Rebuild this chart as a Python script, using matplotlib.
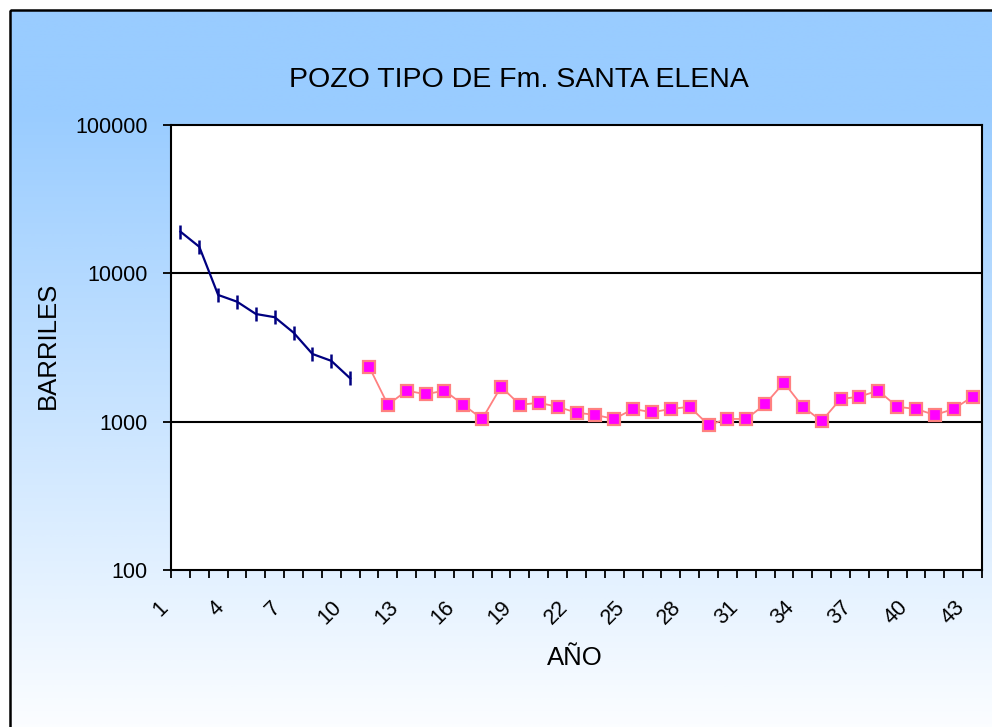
import matplotlib.pyplot as plt
import matplotlib.transforms as mtransforms
from matplotlib.colors import LinearSegmentedColormap
from matplotlib.patches import Rectangle
import numpy as np

plt.rcParams['font.family'] = ['Liberation Sans', 'DejaVu Sans']

# Datos
anios_1 = list(range(1, 11))
barriles_1 = [19100, 15100, 7150, 6440, 5320, 5060, 3980, 2860, 2570, 1960]

anios_2 = list(range(11, 44))
barriles_2 = [2350, 1300, 1620, 1530, 1620, 1300, 1043, 1720, 1300, 1340,
              1260, 1150, 1110, 1043, 1218, 1157, 1218, 1260, 950, 1043,
              1043, 1310, 1833, 1260, 1010, 1422, 1474, 1620, 1260, 1218,
              1110, 1218, 1474]

etiquetas_x = list(range(1, 44, 3))

W, H = 992, 727
fig = plt.figure(figsize=(W / 100, H / 100), dpi=100)

# Fondo con degradado (azul arriba, blanco abajo)
fondo = fig.add_axes([0, 0, 1, 1], zorder=-2)
fondo.set_xlim(0, W)
fondo.set_ylim(H, 0)
fondo.axis('off')
y = np.arange(H)
t = np.clip((y - 100) / 650.0, 0, 1)
grad = np.repeat(t[:, None], 2, axis=1)
cmap = LinearSegmentedColormap.from_list('fondo', ['#99CCFF', '#FFFFFF'])
fondo.imshow(grad, cmap=cmap, aspect='auto', extent=[10, W + 5, H, 10],
             vmin=0, vmax=1)
fondo.add_patch(Rectangle((10, 10), W + 20, H + 20, fill=False,
                          edgecolor='black', linewidth=1.8))

ax = fig.add_axes([171 / W, (H - 570) / H, 811 / W, 445 / H])
ax.set_facecolor('white')
ax.set_yscale('log')
ax.set_ylim(100, 100000)
ax.set_xlim(0.5, 43.5)

ax.plot(anios_1, barriles_1, color='#000080', linewidth=1.6, marker='|',
        markersize=10, markeredgewidth=1.8, zorder=3)
ax.plot(anios_2, barriles_2, color='#FF8080', linewidth=1.3, marker='s',
        markersize=8.5, markerfacecolor='#FF00FF', markeredgecolor='#FF8080',
        markeredgewidth=1.6, zorder=3)

# Lineas de cuadricula en las decadas
for v in [1000, 10000]:
    ax.axhline(v, color='black', linewidth=1.5, zorder=1)

ax.set_yticks([100, 1000, 10000, 100000])
ax.set_yticklabels(['100', '1000', '10000', '100000'], fontsize=15.5)
ax.yaxis.set_minor_locator(plt.NullLocator())
ax.tick_params(axis='y', direction='out', length=6, width=1.3, pad=11)

ax.set_xticks(etiquetas_x)
ax.set_xticklabels([str(e) for e in etiquetas_x], rotation=45, ha='center',
                   fontsize=15.5)
ax.set_xticks(np.arange(0.5, 44, 1), minor=True)
ax.tick_params(axis='x', which='major', length=0, pad=19.5)
ax.tick_params(axis='x', which='minor', direction='out', length=6, width=1.3)

# desplazar etiquetas rotadas a la izquierda como en Excel
desplazamiento = mtransforms.ScaledTranslation(-0.20, 0, fig.dpi_scale_trans)
for lab in ax.get_xticklabels():
    lab.set_transform(lab.get_transform() + desplazamiento)

for s in ax.spines.values():
    s.set_linewidth(1.5)
    s.set_color('black')

fig.text(519 / W, 1 - 80 / H, 'POZO TIPO DE Fm. SANTA ELENA', ha='center',
         va='center', fontsize=20.5)
fig.text(575 / W, 1 - 658 / H, 'AÑO', ha='center', va='center', fontsize=18.5)
fig.text(48 / W, 1 - 345 / H, 'BARRILES', ha='center', va='center',
         rotation=90, fontsize=18.5)

fig.savefig('out.png', dpi=100)
